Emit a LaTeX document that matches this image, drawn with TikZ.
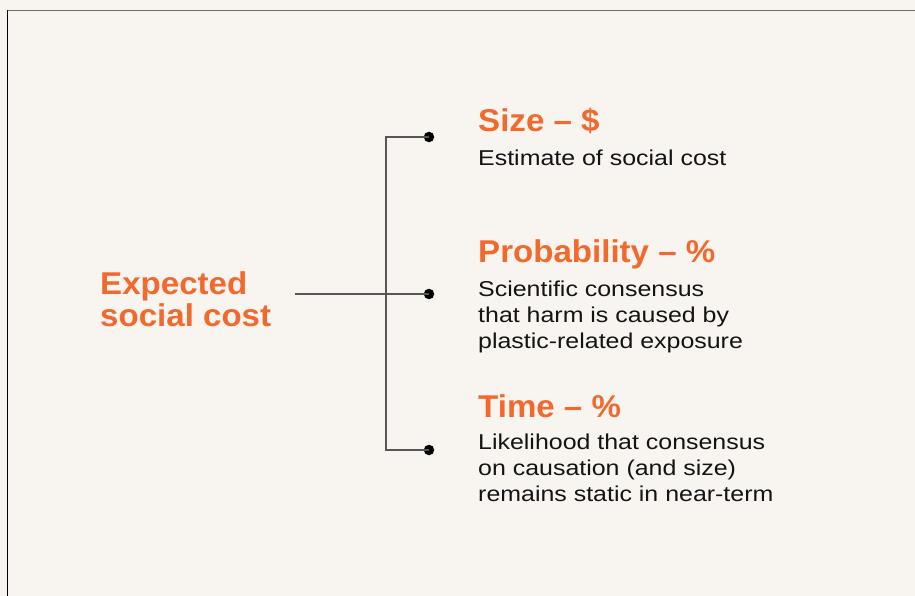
\documentclass[tikz,border=0pt]{standalone}
\usepackage{fontspec}
\setmainfont{Liberation Sans}
\newfontfamily\titlefont[FakeStretch=1.05]{Liberation Sans}
\newfontfamily\bodyfont[FakeStretch=1.16]{Liberation Sans}
\definecolor{bg}{HTML}{F8F5F0}
\definecolor{orng}{HTML}{F2692E}
\definecolor{frame}{HTML}{6E6C69}
\definecolor{ink}{HTML}{141414}
\tikzset{
  title/.style={anchor=base west, inner sep=0pt, text=orng, align=left, font=\titlefont\fontsize{31.5}{32}\selectfont\bfseries},
  body/.style={anchor=base west, inner sep=0pt, text=ink, align=left, font=\bodyfont\fontsize{21.5}{26}\selectfont},
  dotnode/.style={circle, fill=black, inner sep=0pt, minimum size=10.5pt},
  conn/.style={draw=frame!80!black, line width=1.1pt}
}
\begin{document}
\begin{tikzpicture}[x=1pt,y=-1pt]
\useasboundingbox (0,0) rectangle (915,596);
\fill[bg] (0,0) rectangle (915,596);
\draw[frame, line width=1.6pt] (7.5,10.5) -- (915,10.5);
\draw[black, line width=1.2pt] (7.5,10) -- (7.5,596);

\node[title] (esc) at (100,326) {Expected\\social cost};

\node[title] (t1) at (478,132) {Size – \$};
\node[body] (b1) at (478,166) {Estimate of social cost};
\node[title] (t2) at (478,262) {Probability – \%};
\node[body] (b2) at (478,348) {Scientific consensus\\that harm is caused by\\plastic-related exposure};
\node[title] (t3) at (478,417) {Time – \%};
\node[body] (b3) at (478,501) {Likelihood that consensus\\on causation (and size)\\remains static in near-term};

\node[dotnode] (d1) at (429,137) {};
\node[dotnode] (d2) at (429,294) {};
\node[dotnode] (d3) at (429,450) {};
\coordinate (start) at (295,294);
\coordinate (j) at (386,294);

\draw[conn] (start) -- (d2.center);
\draw[conn] (d1.center) -| (j) |- (d3.center);
\end{tikzpicture}
\end{document}
